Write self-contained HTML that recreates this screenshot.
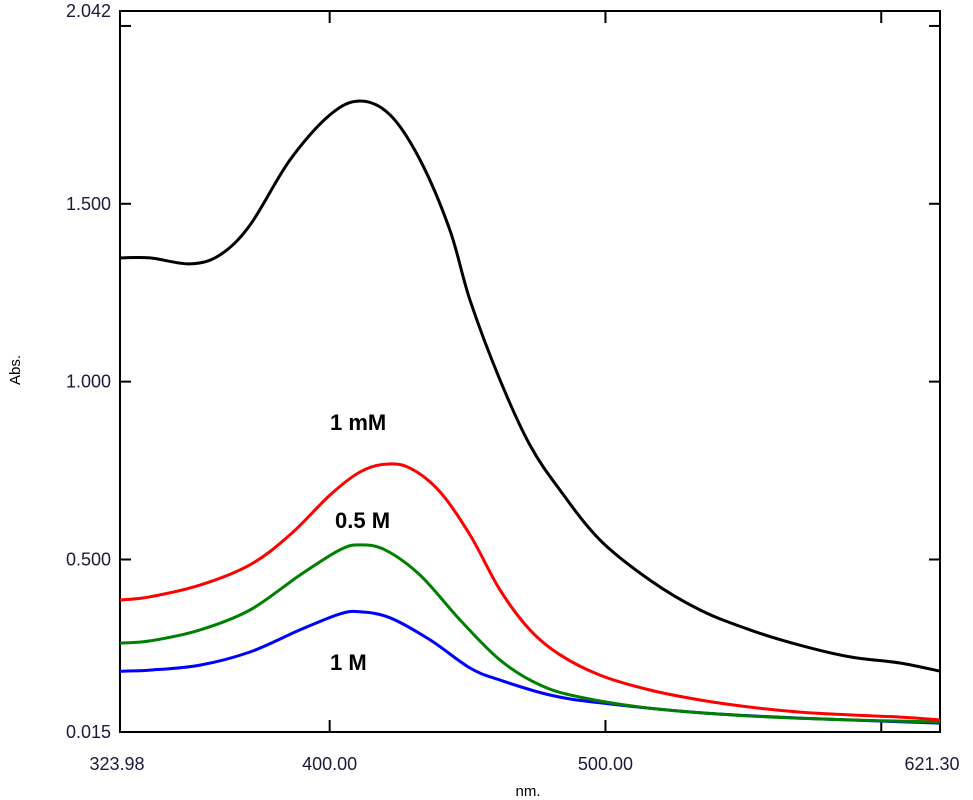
<!DOCTYPE html>
<html><head><meta charset="utf-8"><style>
html,body{margin:0;padding:0;background:#fff;}
svg{display:block;font-family:"Liberation Sans",sans-serif;}
</style></head><body>
<svg id="chart" width="973" height="800">
  <g id="axes"></g>
  <g id="series"></g>
  <text x="330" y="430" font-size="22" font-weight="bold">1 mM</text>
  <text x="335" y="528" font-size="22" font-weight="bold">0.5 M</text>
  <text x="330" y="670" font-size="22" font-weight="bold">1 M</text>
  <text x="20" y="370" font-size="15" transform="rotate(-90 20 370)" text-anchor="middle">Abs.</text>
  <text x="528" y="796" font-size="15" text-anchor="middle">nm.</text>
</svg>
<script>
const yTicks=[0.015,0.5,1.0,1.5,2.042];
const yTickLabels=["0.015","0.500","1.000","1.500","2.042"];
const yTickMarks=[0.5,1.0,1.5,2.0];
const xTicks=[323.98,400,500,600,621.30];
const xTickLabels=["323.98","400.00","500.00","","621.30"];
const xTickMarks=[400,500,600];
const seriesNames=["1mM","0.5M-red","0.5M-green","1M"];
const seriesColors=["#000000","#ff0000","#008000","#0000ff"];
const blackNm=[323.98,334.9,349.4,360.2,371.1,385.6,400.1,411.0,421.9,432.8,443.6,450.9,461.8,472.6,483.5,498.0,516.1,534.3,552.4,570.5,588.7,606.8,621.3];
const blackAbs=[1.348,1.348,1.331,1.356,1.440,1.623,1.750,1.789,1.750,1.623,1.426,1.229,1.004,0.822,0.695,0.555,0.442,0.358,0.302,0.259,0.226,0.209,0.186];
const redNm=[323.98,334.9,353.0,371.1,385.6,400.1,411.0,420.1,429.1,440.0,450.9,461.8,472.6,483.5,498.0,516.1,534.3,552.4,570.5,588.7,606.8,621.3];
const redAbs=[0.386,0.395,0.428,0.485,0.569,0.681,0.746,0.768,0.757,0.690,0.569,0.414,0.302,0.232,0.175,0.133,0.105,0.085,0.071,0.063,0.057,0.049];
const greenNm=[323.98,334.9,353.0,371.1,389.2,403.7,411.0,420.1,432.8,447.3,461.8,476.3,490.8,516.1,552.4,588.7,621.3];
const greenAbs=[0.265,0.271,0.302,0.358,0.456,0.527,0.541,0.527,0.456,0.330,0.217,0.147,0.113,0.082,0.060,0.049,0.043];
const blueNm=[323.98,334.9,353.0,371.1,389.2,403.7,411.0,421.9,436.4,450.9,461.8,479.9,498.0,534.3,570.5,621.3];
const blueAbs=[0.186,0.189,0.203,0.240,0.302,0.347,0.353,0.336,0.274,0.195,0.161,0.119,0.097,0.069,0.054,0.040];

const L=120,R=940,T=11,B=732;
function xs(v){return L+(v-323.98)/(621.30-323.98)*(R-L);}
function ys(v){return B-(v-0.015)/(2.042-0.015)*(B-T);}
const NS="http://www.w3.org/2000/svg";
const axes=document.getElementById('axes');
function mk(tag,attrs,parent){const e=document.createElementNS(NS,tag);for(const k in attrs)e.setAttribute(k,attrs[k]);parent.appendChild(e);return e;}
const frame=mk('rect',{x:L,y:T,width:R-L,height:B-T,fill:'none',stroke:'#000','stroke-width':2},axes);


yTickMarks.forEach(v=>{
  const y=ys(v);
  const t1=mk('line',{x1:L,x2:L+11,y1:y,y2:y,stroke:'#000','stroke-width':2},axes);
  
  
  const t2=mk('line',{x1:R-11,x2:R,y1:y,y2:y,stroke:'#000','stroke-width':2},axes);
  
  
});
yTicks.forEach((v,i)=>{
  const y=ys(v);
  const tx=mk('text',{x:111,y:y+6,'font-size':18,'text-anchor':'end',fill:'#1a1a3a'},axes);
  tx.textContent=yTickLabels[i];
  
  
});
xTickMarks.forEach(v=>{
  const x=xs(v);
  const t1=mk('line',{x1:x,x2:x,y1:B,y2:B-12,stroke:'#000','stroke-width':2},axes);
  
  
  const t2=mk('line',{x1:x,x2:x,y1:T,y2:T+12,stroke:'#000','stroke-width':2},axes);
  
  
});
xTicks.forEach((v,i)=>{
  const x=xs(v);
  if(xTickLabels[i]){
    const tx=mk('text',{x:i===4?x-8:(i===0?x-3:x),y:770,'font-size':18,'text-anchor':'middle',fill:'#1a1a3a'},axes);
    tx.textContent=xTickLabels[i];
    
    
  }
});
function smooth(p){
  let d='M'+p[0][0].toFixed(1)+','+p[0][1].toFixed(1);
  for(let i=0;i<p.length-1;i++){
    const p0=p[Math.max(0,i-1)],p1=p[i],p2=p[i+1],p3=p[Math.min(p.length-1,i+2)];
    const c1x=p1[0]+(p2[0]-p0[0])/6,c1y=p1[1]+(p2[1]-p0[1])/6;
    const c2x=p2[0]-(p3[0]-p1[0])/6,c2y=p2[1]-(p3[1]-p1[1])/6;
    d+=' C'+c1x.toFixed(1)+','+c1y.toFixed(1)+' '+c2x.toFixed(1)+','+c2y.toFixed(1)+' '+p2[0].toFixed(1)+','+p2[1].toFixed(1);
  }
  return d;
}
const sg=document.getElementById('series');
[[blueNm,blueAbs],[greenNm,greenAbs],[redNm,redAbs],[blackNm,blackAbs]].forEach((d,j)=>{
  const idx=3-j;
  const pts=d[0].map((v,i)=>[xs(v),ys(d[1][i])]);
  const pl=mk('path',{d:smooth(pts),fill:'none',stroke:seriesColors[idx],'stroke-width':3,'stroke-linejoin':'round'},sg);
  
  
});
</script>
</body></html>
